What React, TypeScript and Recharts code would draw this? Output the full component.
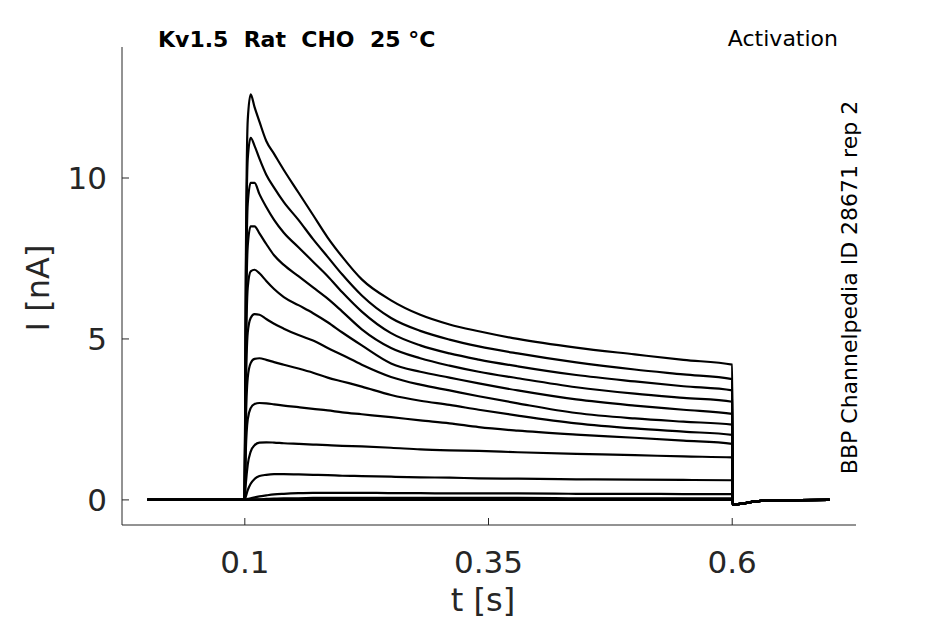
import React from "react";
import { LineChart, Line, XAxis, YAxis } from "recharts";

const W = 945;
const H = 624;
const AX_LEFT = 122;
const AX_BOTTOM = 525;
const AXIS_COLOR = "#262626";
const FONT = "'DejaVu Sans', sans-serif";

// time points (s)
const times = [0, 0.0998, 0.101, 0.103, 0.106, 0.11, 0.115, 0.122, 0.13, 0.14, 0.155, 0.17, 0.185, 0.2, 0.22, 0.25, 0.28, 0.31, 0.34, 0.38, 0.44, 0.5, 0.55, 0.6, 0.6004, 0.606, 0.615, 0.632, 0.7];

// current traces (nA), one per voltage step
const trace1 = [0, 0, 7.0, 11.8, 12.6, 12.2, 11.75, 11.15, 10.75, 10.25, 9.55, 8.85, 8.15, 7.55, 6.85, 6.2, 5.75, 5.45, 5.24, 5.0, 4.73, 4.52, 4.35, 4.2, -0.15, -0.13, -0.09, -0.02, 0];
const trace2 = [0, 0, 6.5, 10.6, 11.25, 11.0, 10.6, 10.1, 9.7, 9.25, 8.7, 8.1, 7.55, 7.0, 6.35, 5.65, 5.25, 4.98, 4.77, 4.55, 4.27, 4.05, 3.9, 3.75, -0.15, -0.13, -0.09, -0.02, 0];
const trace3 = [0, 0, 5.5, 9.2, 9.85, 9.85, 9.5, 9.1, 8.7, 8.3, 7.85, 7.4, 6.95, 6.45, 5.85, 5.18, 4.8, 4.55, 4.36, 4.15, 3.88, 3.68, 3.53, 3.4, -0.15, -0.13, -0.09, -0.02, 0];
const trace4 = [0, 0, 4.8, 7.9, 8.5, 8.5, 8.28, 7.95, 7.6, 7.3, 6.95, 6.6, 6.25, 5.85, 5.3, 4.72, 4.4, 4.17, 3.98, 3.78, 3.5, 3.3, 3.17, 3.05, -0.15, -0.13, -0.09, -0.02, 0];
const trace5 = [0, 0, 4.0, 6.6, 7.1, 7.15, 7.04, 6.8, 6.55, 6.3, 6.05, 5.8, 5.52, 5.2, 4.8, 4.24, 3.98, 3.8, 3.62, 3.4, 3.12, 2.93, 2.8, 2.67, -0.15, -0.13, -0.09, -0.02, 0];
const trace6 = [0, 0, 3.2, 5.2, 5.65, 5.77, 5.75, 5.62, 5.47, 5.32, 5.12, 4.95, 4.72, 4.5, 4.2, 3.82, 3.58, 3.4, 3.22, 3.0, 2.7, 2.53, 2.43, 2.34, -0.15, -0.13, -0.09, -0.02, 0];
const trace7 = [0, 0, 2.3, 3.8, 4.25, 4.38, 4.4, 4.35, 4.28, 4.2, 4.08, 3.95, 3.8, 3.68, 3.52, 3.26, 3.08, 2.95, 2.8, 2.62, 2.38, 2.22, 2.12, 2.02, -0.15, -0.13, -0.09, -0.02, 0];
const trace8 = [0, 0, 1.5, 2.5, 2.85, 2.98, 3.01, 3.0, 2.97, 2.93, 2.88, 2.83, 2.78, 2.72, 2.66, 2.57, 2.47, 2.38, 2.26, 2.15, 2.03, 1.93, 1.84, 1.74, -0.15, -0.13, -0.09, -0.02, 0];
const trace9 = [0, 0, 0.5, 1.1, 1.5, 1.7, 1.78, 1.79, 1.78, 1.76, 1.74, 1.72, 1.7, 1.68, 1.66, 1.62, 1.57, 1.54, 1.52, 1.48, 1.43, 1.39, 1.35, 1.32, -0.15, -0.13, -0.09, -0.02, 0];
const trace10 = [0, 0, 0.1, 0.3, 0.5, 0.65, 0.74, 0.78, 0.8, 0.8, 0.79, 0.78, 0.77, 0.75, 0.74, 0.72, 0.7, 0.69, 0.67, 0.66, 0.64, 0.63, 0.62, 0.61, -0.15, -0.13, -0.09, -0.02, 0];
const trace11 = [0, 0, 0.01, 0.03, 0.05, 0.08, 0.11, 0.14, 0.17, 0.19, 0.21, 0.22, 0.22, 0.22, 0.22, 0.21, 0.21, 0.2, 0.2, 0.2, 0.19, 0.19, 0.18, 0.18, -0.15, -0.13, -0.09, -0.02, 0];
const trace12 = [0, 0, 0, 0.01, 0.01, 0.02, 0.02, 0.03, 0.04, 0.05, 0.05, 0.06, 0.06, 0.06, 0.06, 0.06, 0.06, 0.06, 0.06, 0.06, 0.05, 0.05, 0.05, 0.05, -0.15, -0.13, -0.09, -0.02, 0];
const trace13 = [0, 0, 0, 0, 0, 0.01, 0.01, 0.01, 0.01, 0.02, 0.02, 0.02, 0.02, 0.02, 0.02, 0.02, 0.02, 0.02, 0.02, 0.02, 0.02, 0.02, 0.02, 0.02, -0.15, -0.13, -0.09, -0.02, 0];
const trace14 = [0, 0, 0, 0, 0, 0, 0, 0, 0, 0, 0, 0, 0, 0, 0, 0, 0, 0, 0, 0, 0, 0, 0, 0, -0.15, -0.13, -0.09, -0.02, 0];

const traces = [trace1, trace2, trace3, trace4, trace5, trace6, trace7, trace8, trace9, trace10, trace11, trace12, trace13, trace14];

const xTicks = [0.1, 0.35, 0.6];
const yTicks = [0, 5, 10];
const xDomain = [-0.026, 0.727];
const yDomain = [-0.78, 14.07];

const seriesData = traces.map((vals) => times.map((t, i) => ({ t, v: vals[i] })));

const YTick = (props: any) => {
  const { y, payload } = props;
  return (
    <g>
      <line x1={AX_LEFT} x2={AX_LEFT + 7} y1={y} y2={y} stroke={AXIS_COLOR} strokeWidth={1} />
      <text x={AX_LEFT - 15} y={y + 11} textAnchor="end" fontSize={31} fontFamily={FONT} fill={AXIS_COLOR}>
        {payload.value}
      </text>
    </g>
  );
};

const XTick = (props: any) => {
  const { x, payload } = props;
  return (
    <g>
      <line x1={x} x2={x} y1={AX_BOTTOM} y2={AX_BOTTOM - 7} stroke={AXIS_COLOR} strokeWidth={1} />
      <text x={x} y={573} textAnchor="middle" fontSize={31} fontFamily={FONT} fill={AXIS_COLOR}>
        {payload.value}
      </text>
    </g>
  );
};

export default function App() {
  return (
    <div style={{ position: "absolute", left: 0, top: 0, width: W, height: H, background: "#fff" }}>
      <LineChart width={W} height={H} margin={{ top: 47, right: 89, left: 62, bottom: 49 }}>
        <XAxis
          type="number"
          dataKey="t"
          domain={xDomain}
          allowDataOverflow
          ticks={xTicks}
          tickLine={false}
          tick={<XTick />}
          axisLine={{ stroke: AXIS_COLOR, strokeWidth: 1 }}
          height={50}
          interval={0}
        />
        <YAxis
          type="number"
          domain={yDomain}
          allowDataOverflow
          ticks={yTicks}
          tickLine={false}
          tick={<YTick />}
          axisLine={{ stroke: AXIS_COLOR, strokeWidth: 1 }}
          width={60}
          interval={0}
        />
        {seriesData.map((d, i) => (
          <Line
            key={i}
            data={d}
            dataKey="v"
            type="monotone"
            stroke="#000"
            strokeWidth={2.2}
            dot={false}
            activeDot={false}
            isAnimationActive={false}
          />
        ))}
      </LineChart>
      <svg width={W} height={H} style={{ position: "absolute", left: 0, top: 0, pointerEvents: "none" }}>
        <text x={158} y={47} fontSize={22} fontWeight="bold" fontFamily={FONT} fill="#000" style={{ whiteSpace: "pre" }}>
          {"Kv1.5  Rat  CHO  25 °C"}
        </text>
        <text x={838} y={46} textAnchor="end" fontSize={22} fontFamily={FONT} fill="#000">
          Activation
        </text>
        <text transform="translate(857,287.5) rotate(-90)" textAnchor="middle" fontSize={22} fontFamily={FONT} fill="#000">
          BBP Channelpedia ID 28671 rep 2
        </text>
        <text transform="translate(49,288) rotate(-90)" textAnchor="middle" fontSize={32} fontFamily={FONT} fill={AXIS_COLOR}>
          I [nA]
        </text>
        <text x={483} y={611} textAnchor="middle" fontSize={32} fontFamily={FONT} fill={AXIS_COLOR}>
          t [s]
        </text>
      </svg>
    </div>
  );
}
